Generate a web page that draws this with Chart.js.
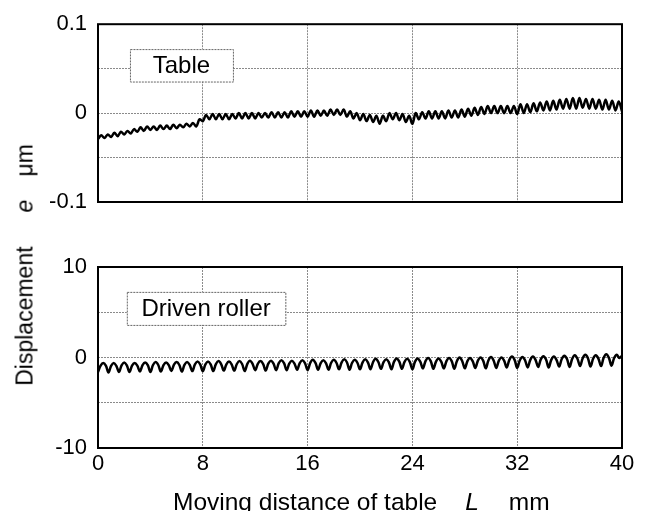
<!DOCTYPE html>
<html>
<head>
<meta charset="utf-8">
<script src="https://cdn.jsdelivr.net/npm/chart.js@4/dist/chart.umd.min.js"></script>
<style>
  body { margin: 0; background: #fff; }
  #wrap { position: relative; width: 654px; height: 511px; overflow: hidden; font-family: 'Liberation Sans', Arial, sans-serif; color: #000; }
  canvas { position: absolute; left: 0; }
  #topChart { top: 0; }
  #bottomChart { top: 230px; }
  .ytitle { position: absolute; left: 25px; top: 265px; font-size: 23px; line-height: 23px; white-space: nowrap;
            transform: translate(-50%, -50%) rotate(-90deg); }
  .xtitle { position: absolute; left: 173px; top: 490px; font-size: 24.5px; line-height: 24px; white-space: nowrap; }
</style>
</head>
<body>
<div id="wrap">
  <canvas id="topChart" width="654" height="230"></canvas>
  <canvas id="bottomChart" width="654" height="281"></canvas>
  <div class="ytitle">Displacement<i style="margin-left:34px">e</i><span style="margin-left:23px">μm</span></div>
  <div class="xtitle">Moving distance of table<i style="margin-left:28px">L</i><span style="margin-left:30px">mm</span></div>
</div>
<script>
// x ticks (mm)
const distanceTicks = [0, 8, 16, 24, 32, 40];

// Table: sampled every 0.25 mm
const tableX = [
  0, 0.25, 0.5, 0.75, 1, 1.25, 1.5, 1.75,
  2, 2.25, 2.5, 2.75, 3, 3.25, 3.5, 3.75,
  4, 4.25, 4.5, 4.75, 5, 5.25, 5.5, 5.75,
  6, 6.25, 6.5, 6.75, 7, 7.25, 7.5, 7.75,
  8, 8.25, 8.5, 8.75, 9, 9.25, 9.5, 9.75,
  10, 10.25, 10.5, 10.75, 11, 11.25, 11.5, 11.75,
  12, 12.25, 12.5, 12.75, 13, 13.25, 13.5, 13.75,
  14, 14.25, 14.5, 14.75, 15, 15.25, 15.5, 15.75,
  16, 16.25, 16.5, 16.75, 17, 17.25, 17.5, 17.75,
  18, 18.25, 18.5, 18.75, 19, 19.25, 19.5, 19.75,
  20, 20.25, 20.5, 20.75, 21, 21.25, 21.5, 21.75,
  22, 22.25, 22.5, 22.75, 23, 23.25, 23.5, 23.75,
  24, 24.25, 24.5, 24.75, 25, 25.25, 25.5, 25.75,
  26, 26.25, 26.5, 26.75, 27, 27.25, 27.5, 27.75,
  28, 28.25, 28.5, 28.75, 29, 29.25, 29.5, 29.75,
  30, 30.25, 30.5, 30.75, 31, 31.25, 31.5, 31.75,
  32, 32.25, 32.5, 32.75, 33, 33.25, 33.5, 33.75,
  34, 34.25, 34.5, 34.75, 35, 35.25, 35.5, 35.75,
  36, 36.25, 36.5, 36.75, 37, 37.25, 37.5, 37.75,
  38, 38.25, 38.5, 38.75, 39, 39.25, 39.5, 39.75,
  40
];
const tableE = [
  -0.029, -0.025, -0.028, -0.024, -0.027, -0.022, -0.026, -0.021,
  -0.024, -0.020, -0.023, -0.018, -0.021, -0.016, -0.020, -0.015,
  -0.019, -0.015, -0.019, -0.014, -0.018, -0.014, -0.018, -0.013,
  -0.017, -0.013, -0.016, -0.012, -0.015, -0.011, -0.015, -0.007,
  -0.009, -0.002, -0.007, -0.001, -0.007, -0.001, -0.007, -0.001,
  -0.007, -0.001, -0.006, 0.000, -0.006, 0.000, -0.006, 0.000,
  -0.006, 0.000, -0.005, 0.000, -0.005, 0.001, -0.005, 0.001,
  -0.005, 0.001, -0.005, 0.002, -0.004, 0.002, -0.004, 0.002,
  -0.004, 0.003, -0.004, 0.003, -0.003, 0.003, -0.003, 0.004,
  -0.002, 0.004, -0.002, 0.004, -0.004, 0.002, -0.006, 0.000,
  -0.008, -0.001, -0.009, -0.002, -0.010, -0.003, -0.012, -0.003,
  -0.009, 0.000, -0.007, 0.000, -0.008, -0.001, -0.010, -0.003,
  -0.012, 0.000, -0.007, 0.001, -0.006, 0.002, -0.006, 0.002,
  -0.006, 0.002, -0.006, 0.003, -0.005, 0.003, -0.005, 0.004,
  -0.004, 0.005, -0.003, 0.006, -0.002, 0.007, -0.001, 0.008,
  0.000, 0.008, 0.000, 0.008, 0.000, 0.008, 0.000, 0.008,
  -0.001, 0.010, 0.000, 0.010, 0.001, 0.011, 0.002, 0.012,
  0.003, 0.013, 0.003, 0.014, 0.004, 0.015, 0.005, 0.016,
  0.005, 0.017, 0.005, 0.017, 0.006, 0.016, 0.005, 0.016,
  0.005, 0.015, 0.004, 0.015, 0.004, 0.014, 0.003, 0.013,
  0.002
];

// Driven roller: sampled every 0.2 mm
const rollerX = [
  0, 0.2, 0.4, 0.6, 0.8, 1, 1.2, 1.4, 1.6, 1.8, 2, 2.2, 2.4, 2.6, 2.8, 3, 3.2, 3.4, 3.6, 3.8,
  4, 4.2, 4.4, 4.6, 4.8, 5, 5.2, 5.4, 5.6, 5.8, 6, 6.2, 6.4, 6.6, 6.8, 7, 7.2, 7.4, 7.6, 7.8,
  8, 8.2, 8.4, 8.6, 8.8, 9, 9.2, 9.4, 9.6, 9.8, 10, 10.2, 10.4, 10.6, 10.8, 11, 11.2, 11.4, 11.6, 11.8,
  12, 12.2, 12.4, 12.6, 12.8, 13, 13.2, 13.4, 13.6, 13.8, 14, 14.2, 14.4, 14.6, 14.8, 15, 15.2, 15.4, 15.6, 15.8,
  16, 16.2, 16.4, 16.6, 16.8, 17, 17.2, 17.4, 17.6, 17.8, 18, 18.2, 18.4, 18.6, 18.8, 19, 19.2, 19.4, 19.6, 19.8,
  20, 20.2, 20.4, 20.6, 20.8, 21, 21.2, 21.4, 21.6, 21.8, 22, 22.2, 22.4, 22.6, 22.8, 23, 23.2, 23.4, 23.6, 23.8,
  24, 24.2, 24.4, 24.6, 24.8, 25, 25.2, 25.4, 25.6, 25.8, 26, 26.2, 26.4, 26.6, 26.8, 27, 27.2, 27.4, 27.6, 27.8,
  28, 28.2, 28.4, 28.6, 28.8, 29, 29.2, 29.4, 29.6, 29.8, 30, 30.2, 30.4, 30.6, 30.8, 31, 31.2, 31.4, 31.6, 31.8,
  32, 32.2, 32.4, 32.6, 32.8, 33, 33.2, 33.4, 33.6, 33.8, 34, 34.2, 34.4, 34.6, 34.8, 35, 35.2, 35.4, 35.6, 35.8,
  36, 36.2, 36.4, 36.6, 36.8, 37, 37.2, 37.4, 37.6, 37.8, 38, 38.2, 38.4, 38.6, 38.8, 39, 39.2, 39.4, 39.6, 39.8,
  40
];
const rollerE = [
  -1.6, -0.9, -0.6, -0.9, -1.65, -0.92, -0.6, -0.92, -1.6, -0.87, -0.55, -0.87, -1.6, -0.9, -0.6, -0.9, -1.55, -0.85, -0.55, -0.85,
  -1.6, -0.83, -0.5, -0.83, -1.55, -0.85, -0.55, -0.85, -1.5, -0.8, -0.5, -0.8, -1.55, -0.82, -0.5, -0.82, -1.5, -0.77, -0.45, -0.77,
  -1.5, -0.77, -0.45, -0.77, -1.5, -0.73, -0.4, -0.73, -1.45, -0.75, -0.45, -0.75, -1.45, -0.72, -0.4, -0.72, -1.5, -0.7, -0.35, -0.7,
  -1.4, -0.7, -0.4, -0.7, -1.45, -0.68, -0.35, -0.68, -1.4, -0.63, -0.3, -0.63, -1.4, -0.67, -0.35, -0.67, -1.35, -0.62, -0.3, -0.62,
  -1.4, -0.6, -0.25, -0.6, -1.35, -0.62, -0.3, -0.62, -1.35, -0.58, -0.25, -0.58, -1.3, -0.53, -0.2, -0.53, -1.35, -0.58, -0.25, -0.58,
  -1.3, -0.53, -0.2, -0.53, -1.3, -0.5, -0.15, -0.5, -1.25, -0.52, -0.2, -0.52, -1.3, -0.46, -0.1, -0.46, -1.25, -0.48, -0.15, -0.48,
  -1.3, -0.46, -0.1, -0.46, -1.2, -0.4, -0.05, -0.4, -1.25, -0.45, -0.1, -0.45, -1.2, -0.4, -0.05, -0.4, -1.25, -0.38, 0, -0.38,
  -1.2, -0.4, -0.05, -0.4, -1.15, -0.35, 0, -0.35, -1.2, -0.33, 0.05, -0.33, -1.15, -0.35, 0, -0.35, -1.1, -0.26, 0.1, -0.26,
  -1.15, -0.31, 0.05, -0.31, -1.1, -0.26, 0.1, -0.26, -1.05, -0.21, 0.15, -0.21, -1.1, -0.26, 0.1, -0.26, -1.0, -0.16, 0.2, -0.16,
  -1.05, -0.14, 0.25, -0.14, -0.95, -0.08, 0.3, -0.08, -1.0, -0.12, 0.25, -0.12, -0.95, -0.04, 0.35, -0.04, -0.9, -0.06, 0.3, -0.06,
  0.2
];

// y grids and labelled ticks
const tableGrid = [-0.1, -0.05, 0, 0.05, 0.1];
const tableLabels = ['-0.1', '0', '0.1'];
const rollerGrid = [-10, -5, 0, 5, 10];
const rollerLabels = ['-10', '0', '10'];

const FONT = "'Liberation Sans', Arial, sans-serif";

document.addEventListener('DOMContentLoaded', function () {
    Chart.defaults.font.family = FONT;
    Chart.defaults.color = '#000';

    // frame round the plot area + boxed panel name
    const framePlugin = {
        id: 'frame',
        afterDatasetsDraw(chart, args, opts) {
            const { ctx, chartArea: a, scales } = chart;
            const b = opts.box;
            if (b) {
                const x1 = scales.x.getPixelForValue(b.x0), x2 = scales.x.getPixelForValue(b.x1);
                const y1 = scales.y.getPixelForValue(b.y0), y2 = scales.y.getPixelForValue(b.y1);
                ctx.save();
                ctx.fillStyle = '#fff';
                ctx.fillRect(x1, y1, x2 - x1, y2 - y1);
                ctx.strokeStyle = '#666';
                ctx.lineWidth = 1;
                ctx.setLineDash([2, 1]);
                ctx.strokeRect(x1 + 0.5, y1 + 0.5, x2 - x1, y2 - y1);
                ctx.setLineDash([]);
                ctx.fillStyle = '#000';
                ctx.font = '24px ' + FONT;
                ctx.textAlign = 'center';
                ctx.textBaseline = 'middle';
                ctx.fillText(b.text, (x1 + x2) / 2, (y1 + y2) / 2 + 1);
                ctx.restore();
            }
            ctx.save();
            ctx.strokeStyle = '#000';
            ctx.lineWidth = 2;
            ctx.strokeRect(a.left, a.top, a.right - a.left, a.bottom - a.top);
            ctx.restore();
        }
    };

    function createPanel(id, xs, ys, grid, labels, box, showX, padding) {
        const ctx = document.getElementById(id).getContext('2d');
        const gridStyle = { color: '#8a8a8a', lineWidth: 1, drawTicks: false };
        const borderStyle = { display: false, dash: [2, 1] };

        return new Chart(ctx, {
            type: 'line',
            data: {
                datasets: [{
                    data: xs.map((x, i) => ({ x: x, y: ys[i] })),
                    borderColor: '#000',
                    borderWidth: 2.5,
                    pointRadius: 0,
                    tension: 0.35,
                    fill: false
                }]
            },
            plugins: [framePlugin],
            options: {
                responsive: false,
                animation: false,
                devicePixelRatio: 1,
                layout: { padding: padding },
                plugins: {
                    legend: { display: false },
                    tooltip: { enabled: false },
                    frame: { box: box }
                },
                scales: {
                    x: {
                        type: 'linear',
                        min: 0, max: 40,
                        afterBuildTicks: s => { s.ticks = distanceTicks.map(v => ({ value: v })); },
                        afterFit: s => { if (showX) s.height = 63; },
                        grid: gridStyle,
                        border: borderStyle,
                        ticks: { display: showX, padding: 3, font: { size: 22 }, color: '#000' }
                    },
                    y: {
                        min: grid[0], max: grid[grid.length - 1],
                        afterBuildTicks: s => { s.ticks = grid.map(v => ({ value: v })); },
                        afterFit: s => { s.width = 98; },
                        grid: gridStyle,
                        border: borderStyle,
                        ticks: {
                            padding: 11,
                            font: { size: 22 },
                            color: '#000',
                            callback: v => labels.find(l => Number(l) === v) || ''
                        }
                    }
                }
            }
        });
    }

    createPanel('topChart', tableX, tableE, tableGrid, tableLabels,
        { text: 'Table', x0: 2.44, x1: 10.3, y0: 0.072, y1: 0.0355 },
        false, { left: 0, right: 32, top: 22, bottom: 28 });

    createPanel('bottomChart', rollerX, rollerE, rollerGrid, rollerLabels,
        { text: 'Driven roller', x0: 2.2, x1: 14.3, y0: 7.25, y1: 3.6 },
        true, { left: 0, right: 32, top: 37, bottom: 0 });
});
</script>
</body>
</html>
